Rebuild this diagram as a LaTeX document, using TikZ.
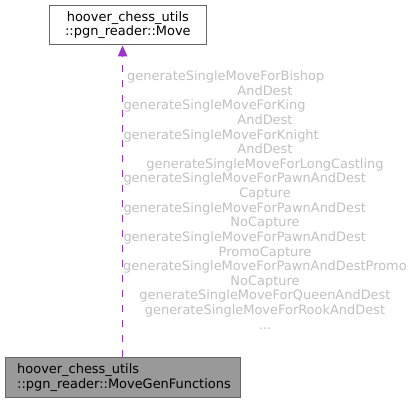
\documentclass[tikz,border=0pt]{standalone}
\usepackage{fontspec}
\setmainfont{DejaVu Sans}
\usetikzlibrary{arrows.meta}
\definecolor{edgecol}{HTML}{9A32CD}
\definecolor{boxline}{HTML}{666666}
\definecolor{boxfill}{HTML}{999999}
\definecolor{lblcol}{HTML}{C0C0C0}
\begin{document}
\begin{tikzpicture}[x=1pt,y=-1pt,
  cls/.style={draw=boxline, line width=1pt, inner ysep=0pt, minimum height=39.5pt,
    font=\fontsize{12.95}{14.63}\selectfont},
  lbl/.style={inner sep=0pt, text=lblcol, font=\fontsize{12.95}{14.63}\selectfont},
  lw/.style={lbl, anchor=base west},
  lc/.style={lbl, anchor=base},
  dep/.style={color=edgecol, line width=1.1pt, dash pattern=on 7pt off 8pt,
    -{Triangle[length=11pt,width=9.5pt,color=edgecol,fill=edgecol]}}]
\useasboundingbox (0,0) rectangle (413,403);
\node[cls, fill=white, anchor=north west, text width=132.7pt, inner xsep=12pt, align=center]
  (mv) at (49,5) {hoover\_chess\_utils\\::pgn\_reader::Move};
\node[cls, fill=boxfill, anchor=north west, text width=211.3pt, inner xsep=12pt, align=left]
  (mg) at (4.7,357.3) {hoover\_chess\_utils\\::pgn\_reader::MoveGenFunctions};
\coordinate (ax) at (122.6,0);
\draw[dep] (mg.north -| ax) -- (mv.south -| ax);
\node[lw] (l1) at (127,80.5) {generateSingleMoveForBishop};
\node[lc] (l2) at (265,95.13) {AndDest};
\node[lw] (l3) at (123.3,109.76) {generateSingleMoveForKing};
\node[lc] (l4) at (265,124.39) {AndDest};
\node[lw] (l5) at (123.3,139.02) {generateSingleMoveForKnight};
\node[lc] (l6) at (265,153.65) {AndDest};
\node[lc] (l7) at (265,168.28) {generateSingleMoveForLongCastling};
\node[lw] (l8) at (123.3,182.91) {generateSingleMoveForPawnAndDest};
\node[lc] (l9) at (265,197.54) {Capture};
\node[lw] (l10) at (123.3,212.17) {generateSingleMoveForPawnAndDest};
\node[lc] (l11) at (265,226.8) {NoCapture};
\node[lw] (l12) at (123.3,241.43) {generateSingleMoveForPawnAndDest};
\node[lc] (l13) at (265,256.06) {PromoCapture};
\node[lc] (l14) at (265,270.69) {generateSingleMoveForPawnAndDestPromo};
\node[lc] (l15) at (265,285.32) {NoCapture};
\node[lc] (l16) at (265,299.95) {generateSingleMoveForQueenAndDest};
\node[lc] (l17) at (265,314.58) {generateSingleMoveForRookAndDest};
\node[lc] (l18) at (265,329.21) {...};
\end{tikzpicture}
\end{document}
